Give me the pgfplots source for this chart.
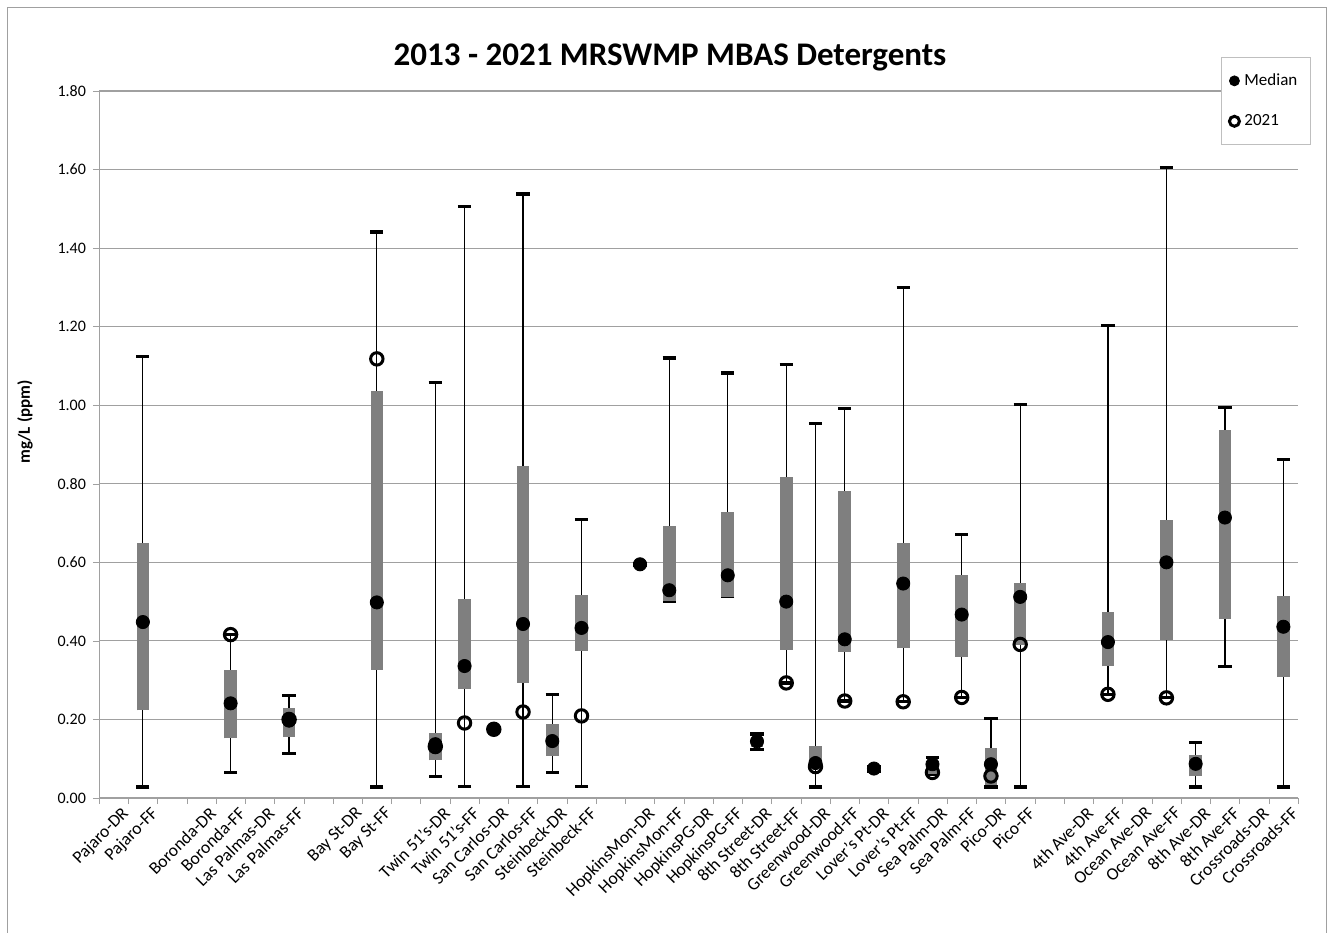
\documentclass[border=0pt]{standalone}
\usepackage{fontspec}
\setmainfont{Carlito}
\usepackage{pgfplots}
\usepackage{pgfplotstable}
\pgfplotsset{compat=1.18}

\definecolor{boxgray}{HTML}{7F7F7F}
\definecolor{gridgray}{HTML}{A0A0A0}

% position, whisker min, box bottom, median, box top, whisker max, 2021 value
\pgfplotstableread{
x  min    q1     med    q3     max    y21
1  0.028  0.223  0.448  0.649  1.124  nan
4  0.064  0.152  0.241  0.327  0.416  0.416
6  0.114  0.155  0.197  0.230  0.260  0.200
9  0.028  0.327  0.498  1.035  1.441  1.118
11 0.054  0.096  0.137  0.165  1.058  0.131
12 0.029  0.277  0.336  0.506  1.505  0.191
13 0.172  0.172  0.175  0.178  0.178  0.175
14 0.029  0.294  0.443  0.844  1.538  0.219
15 0.065  0.108  0.145  0.189  0.263  nan
16 0.029  0.375  0.433  0.518  0.710  0.209
18 0.592  0.592  0.595  0.598  0.598  nan
19 0.500  0.502  0.529  0.693  1.120  nan
21 0.513  0.513  0.567  0.727  1.082  nan
22 0.124  0.130  0.144  0.155  0.163  nan
23 0.293  0.378  0.500  0.818  1.103  0.293
24 0.028  0.084  0.089  0.132  0.954  0.080
25 0.247  0.372  0.404  0.782  0.992  0.247
26 0.068  0.068  0.075  0.080  0.080  nan
27 0.245  0.381  0.546  0.649  1.300  0.245
28 0.060  0.060  0.086  0.090  0.104  0.065
29 0.256  0.359  0.467  0.568  0.670  0.256
30 0.028  0.034  0.086  0.128  0.202  0.056
31 0.028  0.390  0.512  0.547  1.002  0.391
34 0.264  0.335  0.397  0.473  1.203  0.264
36 0.255  0.403  0.600  0.708  1.605  0.255
37 0.028  0.055  0.087  0.110  0.141  nan
38 0.335  0.456  0.714  0.936  0.994  nan
40 0.028  0.308  0.436  0.514  0.862  nan
}\mbasdata

\begin{document}
\begin{tikzpicture}
\begin{axis}[
    scale only axis,
    width=599.5pt, height=353.5pt,
    xmin=-0.5, xmax=40.5,
    ymin=0, ymax=1.8,
    clip=false,
    axis lines*=left,
    axis line style={gridgray},
    tick align=outside,
    xtick={0,...,40},
    xticklabels={Pajaro-DR, Pajaro-FF, {}, Boronda-DR, Boronda-FF, Las Palmas-DR, Las Palmas-FF, {},
        Bay St-DR, Bay St-FF, {}, Twin 51’s-DR, Twin 51’s-FF, San Carlos-DR, San Carlos-FF,
        Steinbeck-DR, Steinbeck-FF, {}, HopkinsMon-DR, HopkinsMon-FF, HopkinsPG-DR, HopkinsPG-FF,
        8th Street-DR, 8th Street-FF, Greenwood-DR, Greenwood-FF, Lover’s Pt-DR, Lover’s Pt-FF,
        Sea Palm-DR, Sea Palm-FF, Pico-DR, Pico-FF, {}, 4th Ave-DR, 4th Ave-FF, Ocean Ave-DR,
        Ocean Ave-FF, 8th Ave-DR, 8th Ave-FF, Crossroads-DR, Crossroads-FF},
    minor xtick={-0.5,0.5,...,40.5},
    major x tick style={draw=none},
    minor x tick style={gridgray},
    y tick style={gridgray},
    major tick length=3pt, minor tick length=3pt,
    xticklabel style={rotate=45, anchor=north east, font=\fontsize{8.8}{10}\selectfont, inner sep=1pt, xshift=3pt, yshift=-2pt},
    ytick={0,0.2,0.4,0.6,0.8,1.0,1.2,1.4,1.6,1.8},
    yticklabel style={font=\fontsize{8}{9}\selectfont, /pgf/number format/.cd, fixed, fixed zerofill, precision=2, assume math mode=true},
    ymajorgrids,
    grid style={gridgray, line width=0.6pt},
    legend style={at={(0.9358,1.048)}, anchor=north west, draw=gray!50, fill=white,
        font=\fontsize{8.5}{9}\selectfont, row sep=9pt, inner xsep=4pt, inner ysep=6pt,
        nodes={inner xsep=2.5pt}},
    legend cell align=left,
    legend image code/.code={\draw[#1, mark size=2.5pt] plot coordinates {(0.12cm,0cm)};},
]
% whiskers (min to max) with caps
\addplot[draw=none, no markers, forget plot,
    error bars/.cd, y dir=both, y explicit, error mark=-,
    error bar style={draw=black, line width=0.6pt},
    error mark options={draw=black, line width=1.6pt, mark size=3.3pt, rotate=90}]
    table[x=x, y=med, y error plus expr=\thisrow{max}-\thisrow{med}, y error minus expr=\thisrow{med}-\thisrow{min}] {\mbasdata};
% boxes (q1 to q3)
\addplot[draw=none, no markers, forget plot,
    error bars/.cd, y dir=plus, y explicit, error mark=none,
    error bar style={draw=boxgray, line width=6.3pt}]
    table[x=x, y=q1, y error plus expr=\thisrow{q3}-\thisrow{q1}] {\mbasdata};
% median
\addplot[only marks, mark=*, mark size=3.3pt, black] table[x=x, y=med] {\mbasdata};
\addlegendentry{Median}
% 2021
\addplot[only marks, mark=o, mark size=3.1pt, mark options={line width=1.5pt, fill=none}, black] table[x=x, y=y21] {\mbasdata};
\addlegendentry{2021}
\end{axis}
\node[font=\fontsize{16.5}{18}\selectfont\bfseries] at (285.5pt,370.5pt) {2013 - 2021 MRSWMP MBAS Detergents};
\node[rotate=90, font=\fontsize{8.5}{10}\selectfont\bfseries] at (-37pt,188pt) {mg/L (ppm)};
\draw[gridgray] (-46pt,-80pt) rectangle (613.5pt,395.5pt);
\pgfresetboundingbox
\path (-49.5pt,-67pt) rectangle (616pt,399pt);
\end{tikzpicture}
\end{document}
